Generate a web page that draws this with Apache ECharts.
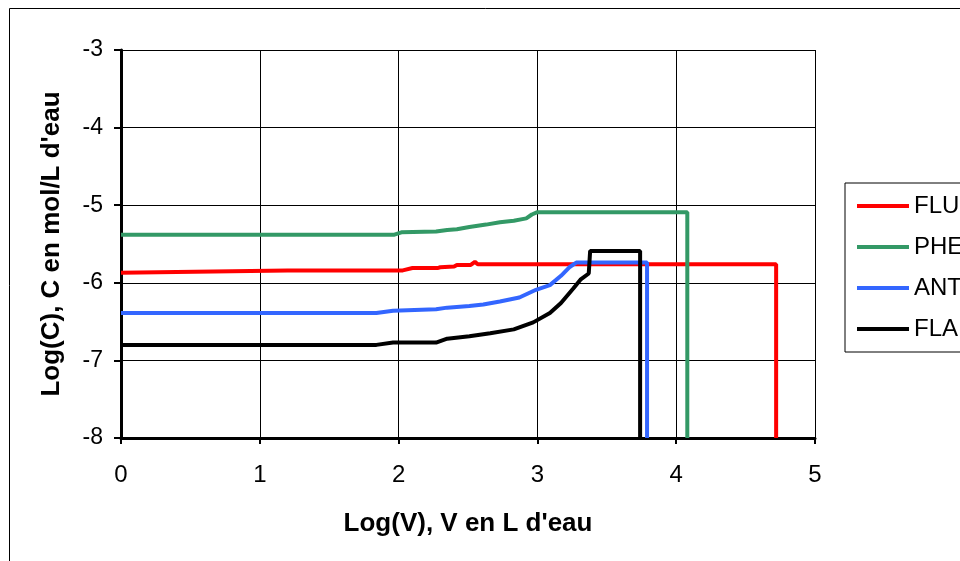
<!DOCTYPE html>
<html>
<head>
<meta charset="utf-8">
<script src="https://cdn.jsdelivr.net/npm/echarts@6/dist/echarts.min.js"></script>
<style>
  html, body { margin: 0; padding: 0; background: #fff; }
  #chart { width: 960px; height: 561px; }
</style>
</head>
<body>
<div id="chart"></div>
<script>
// log(V) / log(C)
var fluX = [0, 1.2, 2.03, 2.1, 2.28, 2.3, 2.4, 2.42, 2.52, 2.55, 2.57, 4.72, 4.72];
var fluY = [-5.87, -5.84, -5.84, -5.81, -5.81, -5.8, -5.79, -5.77, -5.77, -5.73, -5.76, -5.76, -8];

var pheX = [0, 1.97, 2.02, 2.27, 2.35, 2.42, 2.51, 2.63, 2.73, 2.83, 2.92, 2.96, 3.0, 4.08, 4.08];
var pheY = [-5.38, -5.38, -5.35, -5.34, -5.32, -5.31, -5.28, -5.25, -5.22, -5.2, -5.17, -5.12, -5.09, -5.09, -8];

var antX = [0, 1.84, 1.96, 2.27, 2.35, 2.51, 2.61, 2.73, 2.87, 2.99, 3.09, 3.17, 3.23, 3.28, 3.79, 3.79];
var antY = [-6.39, -6.39, -6.36, -6.34, -6.32, -6.3, -6.28, -6.24, -6.19, -6.09, -6.03, -5.91, -5.8, -5.74, -5.74, -8];

var flaX = [0, 1.84, 1.96, 2.27, 2.35, 2.51, 2.66, 2.83, 2.97, 3.09, 3.17, 3.26, 3.31, 3.37, 3.38, 3.74, 3.74];
var flaY = [-6.8, -6.8, -6.77, -6.77, -6.72, -6.69, -6.65, -6.6, -6.51, -6.39, -6.26, -6.07, -5.96, -5.88, -5.59, -5.59, -8];

var seriesNames = ['FLU', 'PHE', 'ANT', 'FLA'];
var seriesColors = ['#ff0000', '#339966', '#3366ff', '#000000'];

var zip = function (xs, ys) {
    return xs.map(function (x, i) { return [x, ys[i]]; });
};
var allData = [zip(fluX, fluY), zip(pheX, pheY), zip(antX, antY), zip(flaX, flaY)];

var font = "'Liberation Sans', Arial, sans-serif";

var chart = echarts.init(document.getElementById('chart'));
var option = {
    backgroundColor: '#fff',
    animation: false,
    graphic: [
        {
            type: 'rect',
            shape: { x: 9.5, y: 8.5, width: 1000, height: 600 },
            style: { fill: 'none', stroke: '#000', lineWidth: 1 },
            z: -1
        }
    ],
    grid: { left: 121, top: 50, right: 145, bottom: 123 },
    legend: {
        orient: 'vertical',
        left: 845,
        top: 183,
        padding: [10, 80, 10, 12],
        itemGap: 15,
        itemWidth: 52,
        itemHeight: 4,
        icon: 'rect',
        borderColor: '#000',
        borderWidth: 1,
        backgroundColor: '#fff',
        textStyle: { fontFamily: font, fontSize: 24, color: '#000', lineHeight: 26 },
        data: seriesNames
    },
    xAxis: {
        type: 'value',
        min: 0,
        max: 5,
        interval: 1,
        name: "Log(V), V en L d'eau",
        nameLocation: 'middle',
        nameGap: 73,
        nameTextStyle: { fontFamily: font, fontSize: 26, fontWeight: 'bold', color: '#000' },
        axisLine: { onZero: false, lineStyle: { color: '#000', width: 3 } },
        axisTick: { show: true, length: 6, lineStyle: { color: '#000', width: 2 } },
        axisLabel: { fontFamily: font, fontSize: 24, color: '#000', margin: 25 },
        splitLine: { show: true, lineStyle: { color: '#000', width: 1 } }
    },
    yAxis: {
        type: 'value',
        min: -8,
        max: -3,
        interval: 1,
        name: "Log(C), C en mol/L d'eau",
        nameLocation: 'middle',
        nameGap: 56,
        nameTextStyle: { fontFamily: font, fontSize: 26, fontWeight: 'bold', color: '#000' },
        axisLine: { onZero: false, lineStyle: { color: '#000', width: 3 } },
        axisTick: { show: true, length: 7, lineStyle: { color: '#000', width: 2 } },
        axisLabel: { fontFamily: font, fontSize: 23, color: '#000', margin: 18 },
        splitLine: { show: true, lineStyle: { color: '#000', width: 1 } }
    },
    series: seriesNames.map(function (name, i) {
        return {
            name: name,
            type: 'line',
            data: allData[i],
            symbol: 'none',
            color: seriesColors[i],
            lineStyle: { width: 4, color: seriesColors[i] },
            clip: false,
            z: 3 + i
        };
    })
};
chart.setOption(option);
</script>
</body>
</html>
